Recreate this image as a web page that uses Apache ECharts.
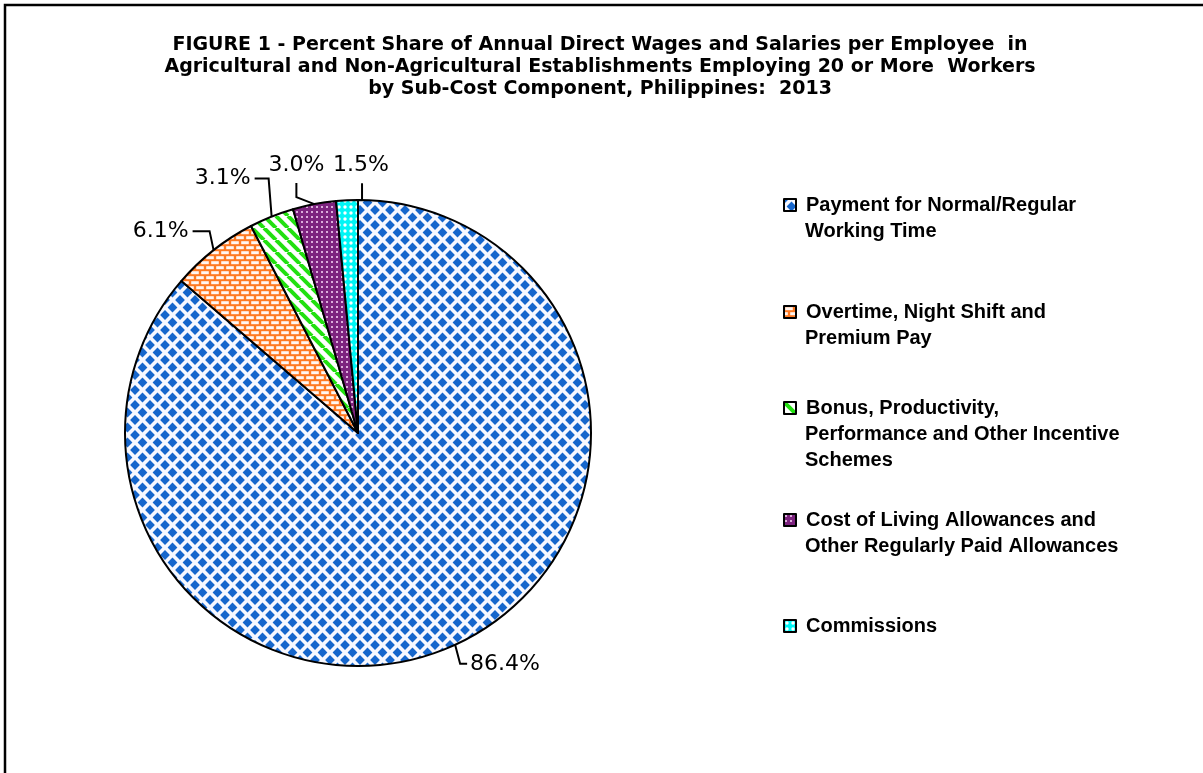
<!DOCTYPE html>
<html>
<head>
<meta charset="utf-8">
<script src="https://cdn.jsdelivr.net/npm/echarts@6/dist/echarts.min.js"></script>
<style>
html,body{margin:0;padding:0;background:#fff;}
#main{width:1203px;height:773px;}
</style>
</head>
<body>
<div id="main"></div>
<script>
// ---- data ----
const categories = [
  'Payment for Normal/Regular Working Time',
  'Overtime, Night Shift and Premium Pay',
  'Bonus, Productivity, Performance and Other Incentive Schemes',
  'Cost of Living Allowances and Other Regularly Paid Allowances',
  'Commissions'
];
const legendLines = [
  ['Payment for Normal/Regular', 'Working Time'],
  ['Overtime, Night Shift and', 'Premium Pay'],
  ['Bonus, Productivity,', 'Performance and Other Incentive', 'Schemes'],
  ['Cost of Living Allowances and', 'Other Regularly Paid Allowances'],
  ['Commissions']
];
const values = [86.4, 6.1, 3.1, 3.0, 1.5];
const titleLines = [
  'FIGURE 1 - Percent Share of Annual Direct Wages and Salaries per Employee  in',
  'Agricultural and Non-Agricultural Establishments Employing 20 or More  Workers',
  'by Sub-Cost Component, Philippines:  2013'
];

// ---- patterns ----
function mk(w, h, draw) {
  const c = document.createElement('canvas');
  c.width = w; c.height = h;
  const g = c.getContext('2d');
  draw(g, w, h);
  return c;
}
const patBlue = mk(15, 15, (g) => {
  g.fillStyle = '#f7f8ff'; g.fillRect(0, 0, 15, 15);
  g.fillStyle = '#1666cc';
  const s = 4.9;
  const d = (x, y) => { g.beginPath(); g.moveTo(x, y - s); g.lineTo(x + s, y); g.lineTo(x, y + s); g.lineTo(x - s, y); g.closePath(); g.fill(); };
  [[0,0],[15,0],[0,15],[15,15],[7.5,7.5]].forEach(p => d(p[0], p[1]));
});
const patOrange = mk(10, 10, (g) => {
  g.fillStyle = '#ff7a22'; g.fillRect(0, 0, 10, 10);
  g.fillStyle = '#fff6f2';
  g.fillRect(1.2, 1.2, 7.6, 3.0);
  g.fillRect(-3.8, 6.2, 7.6, 3.0);
  g.fillRect(6.2, 6.2, 7.6, 3.0);
});
const patGreen = mk(12, 12, (g) => {
  g.fillStyle = '#ffffff'; g.fillRect(0, 0, 12, 12);
  g.strokeStyle = '#22e010'; g.lineWidth = 4;
  for (let k = -1; k <= 1; k++) { g.beginPath(); g.moveTo(k * 12, 0); g.lineTo(k * 12 + 12, 12); g.stroke(); }
});
const patPurple = mk(5, 5, (g) => {
  g.fillStyle = '#7d237f'; g.fillRect(0, 0, 5, 5);
  g.fillStyle = '#dcaedc';
  g.fillRect(1, 1, 2, 2);
});
const patCyan = mk(6, 6, (g) => {
  g.fillStyle = '#00f6f6'; g.fillRect(0, 0, 6, 6);
  g.fillStyle = '#ffffff';
  g.beginPath(); g.arc(3, 3, 1.7, 0, Math.PI * 2); g.fill();
});
const patterns = [patBlue, patOrange, patGreen, patPurple, patCyan];

// ---- styling / layout (not data) ----
const LH = 26;
const LEG_FONT = 20;
const legendFirstLineY = [205, 312, 408, 520, 626];
const legendTextX = 805;
const legendFont = { fontFamily: 'Liberation Sans, Arial', fontWeight: 'bold', fontSize: LEG_FONT, color: '#000' };

// label placement relative to edge point of each slice (dx, dy, align, line style)
const labelPlacements = [
  { dx: 15, dy: 19, align: 'left', line: (e, l) => [e, [e[0] + 5, l[1]], [l[0] - 3, l[1]]] },
  { dx: -25, dy: -19, align: 'right', line: (e, l) => [e, [e[0] - 4, l[1]], [l[0] + 4, l[1]]] },
  { dx: -21, dy: -38, align: 'right', line: (e, l) => [e, [e[0] - 3, l[1]], [l[0] + 4, l[1]]] },
  { dx: -18, dy: -39, align: 'center', line: (e, l) => [e, [e[0] - 18, e[1] - 7], [e[0] - 18, e[1] - 21]] },
  { dx: 14, dy: -35, align: 'center', line: (e, l) => [[e[0] + 15, e[1] + 1], [e[0] + 15, e[1] - 8], [e[0] + 15, e[1] - 17]] }
];

const chart = echarts.init(document.getElementById('main'), null, { renderer: 'canvas' });

const legends = categories.map((name, i) => ({
  data: [name],
  left: 783,
  top: legendFirstLineY[i] - LH / 2,
  padding: 0,
  orient: 'vertical',
  itemWidth: 12,
  itemHeight: 12,
  itemGap: 0,
  icon: 'rect',
  selectedMode: false,
  itemStyle: { borderColor: '#000', borderWidth: 2 },
  formatter: () => legendLines[i][0],
  textStyle: Object.assign({ lineHeight: LH, padding: [0, 0, 0, 5] }, legendFont)
}));

const graphics = [{
  type: 'polyline',
  shape: { points: [[5, 773], [5, 5], [1203, 5]] },
  style: { stroke: '#000', lineWidth: 2.5, fill: null },
  silent: true
}];
legendLines.forEach((lines, i) => {
  lines.slice(1).forEach((t, k) => {
    graphics.push({
      type: 'text',
      x: legendTextX,
      y: legendFirstLineY[i] + LH * (k + 1),
      silent: true,
      style: Object.assign({ text: t, verticalAlign: 'middle', align: 'left', fill: '#000' }, legendFont,
        { font: 'bold ' + LEG_FONT + 'px "Liberation Sans", Arial' })
    });
  });
});

const option = {
  animation: false,
  backgroundColor: '#ffffff',
  title: {
    text: titleLines.join('\n'),
    left: 595,
    textAlign: 'center',
    top: 29,
    textStyle: {
      fontFamily: 'DejaVu Sans, Verdana',
      fontWeight: 'bold',
      fontSize: 19,
      lineHeight: 22,
      color: '#000'
    }
  },
  legend: legends,
  graphic: graphics,
  series: [{
    type: 'pie',
    center: [358, 433],
    radius: 233,
    startAngle: 90,
    clockwise: true,
    avoidLabelOverlap: false,
    label: {
      show: true,
      position: 'outside',
      formatter: (p) => p.value.toFixed(1) + '%',
      fontFamily: 'DejaVu Sans, Verdana',
      fontSize: 22,
      color: '#000'
    },
    labelLine: {
      show: true,
      length: 14,
      length2: 18,
      lineStyle: { color: '#000', width: 2 }
    },
    labelLayout: function (params) {
      const pl = labelPlacements[params.dataIndex];
      const e = params.labelLinePoints[0];
      const l = [e[0] + pl.dx, e[1] + pl.dy];
      return {
        x: l[0],
        y: l[1],
        align: pl.align,
        verticalAlign: 'middle',
        labelLinePoints: pl.line(e, l)
      };
    },
    itemStyle: { borderColor: '#000', borderWidth: 2 },
    emphasis: { disabled: true },
    data: categories.map((name, i) => ({
      name: name,
      value: values[i],
      itemStyle: { color: { image: patterns[i], repeat: 'repeat' } }
    }))
  }]
};
chart.setOption(option);
</script>
</body>
</html>
